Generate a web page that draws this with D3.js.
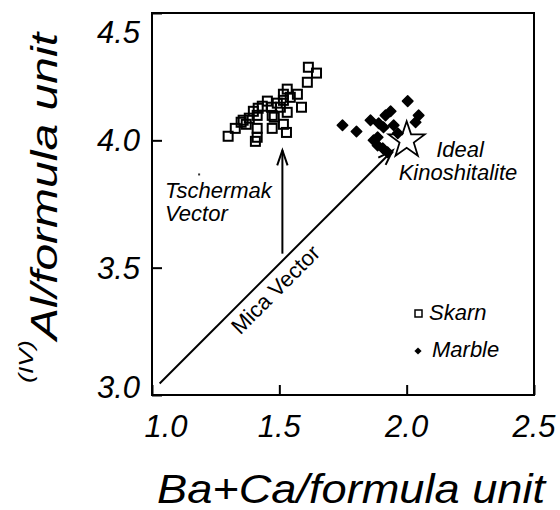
<!DOCTYPE html>
<html lang="en">
<head>
<meta charset="UTF-8">
<title>Al vs Ba+Ca</title>
<script src="https://d3js.org/d3.v7.min.js"></script>
<style>
  body { margin: 0; background: #fff; }
  svg text { font-family: "Liberation Sans", Arial, Helvetica, sans-serif; fill: #000; }
  .italic { font-style: italic; }
</style>
</head>
<body>
<svg id="chart" width="560" height="510"></svg>
<script>
// skarn (open squares)
const skarnBaCa = [1.614, 1.646, 1.610, 1.531, 1.571, 1.516, 1.543, 1.516, 1.453, 1.492, 1.587,
  1.433, 1.469, 1.504, 1.531, 1.398, 1.417, 1.472, 1.413, 1.382, 1.358, 1.350, 1.370, 1.480,
  1.516, 1.472, 1.413, 1.327, 1.528, 1.299, 1.413, 1.406];
const skarnAl = [4.287, 4.264, 4.228, 4.201, 4.181, 4.181, 4.169, 4.157, 4.154, 4.146, 4.130,
  4.134, 4.130, 4.130, 4.110, 4.114, 4.126, 4.098, 4.098, 4.087, 4.079, 4.071, 4.063, 4.091,
  4.063, 4.047, 4.047, 4.047, 4.031, 4.016, 4.012, 3.996];
// marble (filled diamonds)
const marbleBaCa = [2.004, 1.937, 1.917, 2.047, 1.748, 1.803, 1.858, 1.890, 1.909, 1.949, 2.035,
  1.870, 1.886, 1.906, 1.925, 1.965, 1.886];
const marbleAl = [4.154, 4.114, 4.098, 4.098, 4.059, 4.035, 4.079, 4.067, 4.051, 4.059, 4.071,
  4.000, 3.980, 3.969, 3.953, 4.028, 4.012];
// ideal kinoshitalite
const ideal = [2.0, 4.0];
// vectors [x0, y0, x1, y1]
const tschermak = [1.512, 3.555, 1.512, 3.961];
const mica = [1.03, 3.045, 1.945, 3.960];
const strayDot = [1.185, 3.866];

const xTicks = [1.0, 1.5, 2.0, 2.5];
const yTicks = [3.0, 3.5, 4.0, 4.5];
const fmt = d3.format(".1f");

const svg = d3.select("#chart");
const x = d3.scaleLinear().domain([1.0, 2.5]).range([152, 534]);
const y = d3.scaleLinear().domain([3.0, 4.5]).range([395, 13]);

// frame
svg.append("rect")
  .attr("x", x(1.0)).attr("y", y(4.5))
  .attr("width", x(2.5) - x(1.0)).attr("height", y(3.0) - y(4.5))
  .attr("fill", "none").attr("stroke", "#000").attr("stroke-width", 2);

// axes (ticks only, labels drawn below)
const xAxis = svg.append("g")
  .attr("transform", `translate(0,${y(3.0)})`)
  .call(d3.axisBottom(x).tickValues(xTicks).tickFormat("")
    .tickSizeInner(-10).tickSizeOuter(0));
const yAxis = svg.append("g")
  .attr("transform", `translate(${x(1.0)},0)`)
  .call(d3.axisLeft(y).tickValues(yTicks).tickFormat("")
    .tickSizeInner(-10).tickSizeOuter(0));
[xAxis, yAxis].forEach(g => {
  g.select(".domain").remove();
  g.selectAll(".tick line").attr("stroke", "#000").attr("stroke-width", 2);
});

// tick labels (first/last nudged inside like the original)
const xShift = d => d === 1.0 ? 14 : 0;
const yShift = d => d === 4.5 ? 19 : d === 3.0 ? -8 : 0;
svg.append("g").attr("class", "italic").style("font-size", "31px")
  .selectAll("text").data(xTicks).join("text")
  .attr("x", d => x(d) + xShift(d)).attr("y", 437)
  .attr("text-anchor", "middle")
  .text(fmt);
svg.append("g").attr("class", "italic").style("font-size", "31px")
  .selectAll("text").data(yTicks).join("text")
  .attr("x", 140).attr("y", d => y(d) + yShift(d) + 11)
  .attr("text-anchor", "end")
  .text(fmt);

// axis titles
svg.append("text")
  .attr("class", "italic")
  .attr("x", 157).attr("y", 503)
  .attr("textLength", 388).attr("lengthAdjust", "spacingAndGlyphs")
  .style("font-size", "40px")
  .text("Ba+Ca/formula unit");

const yTitle = svg.append("g").attr("transform", "translate(57,0) rotate(-90)");
yTitle.append("text")
  .attr("class", "italic")
  .attr("x", -383).attr("y", -24)
  .attr("textLength", 43).attr("lengthAdjust", "spacingAndGlyphs")
  .style("font-size", "20px")
  .text("(IV)");
yTitle.append("text")
  .attr("class", "italic")
  .attr("x", -340).attr("y", 0)
  .attr("textLength", 307).attr("lengthAdjust", "spacingAndGlyphs")
  .style("font-size", "36px")
  .text("Al/formula unit");

// arrows
function arrow(v) {
  const x0 = x(v[0]), y0 = y(v[1]), x1 = x(v[2]), y1 = y(v[3]);
  const a = Math.atan2(y1 - y0, x1 - x0), len = 16, spread = 0.33;
  svg.append("line")
    .attr("x1", x0).attr("y1", y0).attr("x2", x1).attr("y2", y1)
    .attr("stroke", "#000").attr("stroke-width", 2);
  const p = d3.path();
  p.moveTo(x1 - len * Math.cos(a - spread), y1 - len * Math.sin(a - spread));
  p.lineTo(x1, y1);
  p.lineTo(x1 - len * Math.cos(a + spread), y1 - len * Math.sin(a + spread));
  svg.append("path").attr("d", p.toString())
    .attr("fill", "none").attr("stroke", "#000").attr("stroke-width", 2);
}
arrow(tschermak);
arrow(mica);

// mica vector label along the line
{
  const x0 = x(mica[0]), y0 = y(mica[1]), x1 = x(mica[2]), y1 = y(mica[3]);
  const t = 0.45;
  const ang = Math.atan2(y1 - y0, x1 - x0) * 180 / Math.PI;
  svg.append("text")
    .attr("transform", `translate(${x0 + t * (x1 - x0)},${y0 + t * (y1 - y0)}) rotate(${ang})`)
    .attr("y", 23)
    .attr("text-anchor", "middle")
    .style("font-size", "22px")
    .text("Mica Vector");
}

// skarn squares
const sq = 9;
svg.append("g").selectAll("rect")
  .data(d3.range(skarnBaCa.length))
  .join("rect")
  .attr("x", i => x(skarnBaCa[i]) - sq / 2)
  .attr("y", i => y(skarnAl[i]) - sq / 2)
  .attr("width", sq).attr("height", sq)
  .attr("fill", "none").attr("stroke", "#000").attr("stroke-width", 2);

// marble diamonds
const diamond = d3.symbol().type(d3.symbolSquare).size(55);
svg.append("g").selectAll("path")
  .data(d3.range(marbleBaCa.length))
  .join("path")
  .attr("d", diamond)
  .attr("transform", i => `translate(${x(marbleBaCa[i])},${y(marbleAl[i])}) rotate(45)`)
  .attr("fill", "#000").attr("stroke", "#000").attr("stroke-width", 1.5)
  .attr("stroke-linejoin", "round");

// ideal kinoshitalite star
{
  const cx = x(ideal[0]), cy = y(ideal[1]), ro = 19, ri = 7.5;
  const pts = d3.range(10).map(k => {
    const r = k % 2 ? ri : ro, a = -Math.PI / 2 + k * Math.PI / 5;
    return [cx + r * Math.cos(a), cy + r * Math.sin(a)];
  });
  svg.append("path")
    .attr("d", d3.line()(pts) + "Z")
    .attr("fill", "none").attr("stroke", "#000").attr("stroke-width", 1.8)
    .attr("stroke-linejoin", "miter");
}

// stray dot
svg.append("rect")
  .attr("x", x(strayDot[0]) - 1).attr("y", y(strayDot[1]) - 1)
  .attr("width", 2).attr("height", 2).attr("fill", "#333");

// annotations
const ann = svg.append("g").attr("class", "italic").style("font-size", "22px");
ann.append("text").attr("x", 165).attr("y", 198).text("Tschermak");
ann.append("text").attr("x", 165).attr("y", 221).text("Vector");
ann.append("text").attr("x", 460).attr("y", 157).attr("text-anchor", "middle").text("Ideal");
ann.append("text").attr("x", 458).attr("y", 180).attr("text-anchor", "middle").text("Kinoshitalite");

// legend
svg.append("rect").attr("x", 415).attr("y", 310).attr("width", 7).attr("height", 7)
  .attr("fill", "none").attr("stroke", "#000").attr("stroke-width", 1.5);
ann.append("text").attr("x", 429).attr("y", 320).text("Skarn");
svg.append("path")
  .attr("d", d3.symbol().type(d3.symbolSquare).size(26))
  .attr("transform", "translate(418,351) rotate(45)")
  .attr("fill", "#000");
ann.append("text").attr("x", 432).attr("y", 357).text("Marble");
</script>
</body>
</html>
